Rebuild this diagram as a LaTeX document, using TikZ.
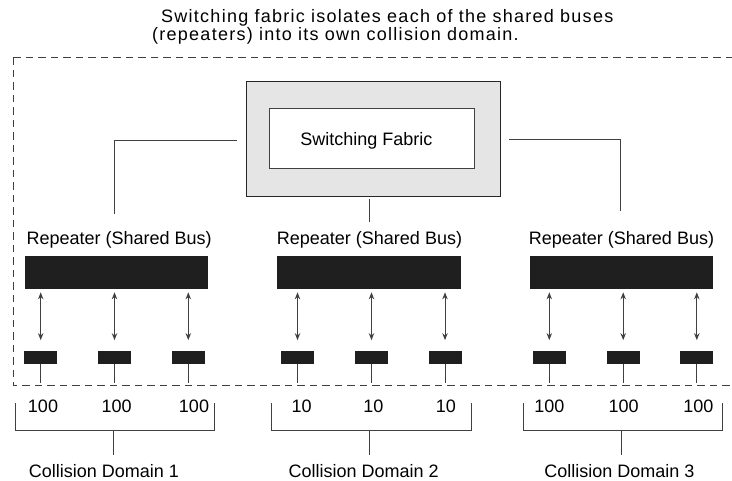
\documentclass[tikz,border=0pt]{standalone}
\usepackage{fontspec}
\setmainfont{Liberation Sans}
\usetikzlibrary{arrows.meta}
\begin{document}
\begin{tikzpicture}[x=1pt,y=-1pt,
  font=\fontsize{18}{20}\selectfont,
  line/.style={draw=black!75, line width=1pt},
  bar/.style={fill=black!88, draw=none, inner sep=0pt, outer sep=0pt, minimum height=33.3pt, minimum width=183.5pt},
  sbox/.style={fill=black!88, draw=none, inner sep=0pt, outer sep=0pt, minimum height=13.3pt, minimum width=33pt},
  arr/.style={line, {Stealth[length=7pt,width=5.5pt]}-{Stealth[length=7pt,width=5.5pt]}, shorten <=3pt, shorten >=10.5pt},
  lbl/.style={inner sep=0pt, anchor=base},
  dashbox/.style={draw=black!75, line width=1pt, dash pattern=on 7.5pt off 5pt}]
\useasboundingbox (0,0) rectangle (732,481);
\begin{scope}
\clip (0,0) rectangle (732,481);
\draw[dashbox] (13,57.5) rectangle (745,385.7);
\end{scope}

% caption
\node[lbl, anchor=base west] (cap1) at (161,23) {\addfontfeature{LetterSpace=7}Switching fabric isolates each of the shared buses};
\node[lbl, anchor=base west] (cap2) at (152,40.7) {\addfontfeature{LetterSpace=7}(repeaters) into its own collision domain.};

% switching fabric
\node[draw=black!85, line width=1.2pt, fill=black!10, minimum width=253.6pt, minimum height=115pt, inner sep=0pt] (fab) at (373.5,139.2) {};
\node[draw=black!75, line width=1pt, fill=white, minimum width=205.4pt, minimum height=60pt, inner sep=0pt] (fabin) at (372,139) {};
\node[lbl] (fabtxt) at (366.3,145.5) {Switching Fabric};

% connectors from fabric
\coordinate (cL1) at (236.7,141);
\coordinate (cL2) at (114.7,214.3);
\coordinate (cR1) at (509.3,139.7);
\coordinate (cR2) at (620,211.3);
\coordinate (cM1) at (369.3,199.5);
\coordinate (cM2) at (369.3,221.7);
\draw[line] (cL1) -| (cL2);
\draw[line] (cR1) -| (cR2);
\draw[line] (cM1) -- (cM2);

% repeater labels
\node[lbl] (rl1) at (119.2,245) {Repeater (Shared Bus)};
\node[lbl] (rl2) at (369.5,245) {Repeater (Shared Bus)};
\node[lbl] (rl3) at (621.5,245) {Repeater (Shared Bus)};

% bars
\node[bar] (bar1) at (116.7,272.7) {};
\node[bar] (bar2) at (369.2,272.7) {};
\node[bar] (bar3) at (621.7,272.7) {};

% small boxes
\node[sbox] (s11) at (40.7,357.3) {};
\node[sbox] (s12) at (114.5,357.3) {};
\node[sbox] (s13) at (188.3,357.3) {};
\node[sbox] (s21) at (297.5,357.3) {};
\node[sbox] (s22) at (371.5,357.3) {};
\node[sbox] (s23) at (445,357.3) {};
\node[sbox] (s31) at (549.3,357.3) {};
\node[sbox] (s32) at (623.2,357.3) {};
\node[sbox] (s33) at (696.8,357.3) {};

% arrows and drops
\foreach \g in {1,2,3}{
  \foreach \i in {1,2,3}{
    \draw[arr] (s\g\i.north |- bar\g.south) -- (s\g\i.north);
    \coordinate (t\g\i) at ([yshift=-19.3pt]s\g\i.south);
    \draw[line] (s\g\i.south) -- (t\g\i);
  }
}

% numbers
\node[lbl] (n11) at (43,413) {100};
\node[lbl] (n12) at (116.7,413) {100};
\node[lbl] (n13) at (194,413) {100};
\node[lbl] (n21) at (301.7,413) {10};
\node[lbl] (n22) at (373.5,413) {10};
\node[lbl] (n23) at (446,413) {10};
\node[lbl] (n31) at (549.3,413) {100};
\node[lbl] (n32) at (623.7,413) {100};
\node[lbl] (n33) at (698.3,413) {100};

% brackets
\coordinate (b1a) at (15,403.3);  \coordinate (b1b) at (214,403.3);
\coordinate (b2a) at (271.7,403.3); \coordinate (b2b) at (471,403.3);
\coordinate (b3a) at (523.3,403.3); \coordinate (b3b) at (722.7,403.3);
\draw[line] (b1a) -- ++(0,27.7) -| (b1b);
\draw[line] (b2a) -- ++(0,27.7) -| (b2b);
\draw[line] (b3a) -- ++(0,27.7) -| (b3b);
\coordinate (m1a) at (113.3,431); \coordinate (m1b) at (113.3,455);
\coordinate (m2a) at (369.3,431); \coordinate (m2b) at (369.3,455);
\coordinate (m3a) at (621.3,431); \coordinate (m3b) at (621.3,455);
\draw[line] (m1a) -- (m1b);
\draw[line] (m2a) -- (m2b);
\draw[line] (m3a) -- (m3b);

% domain labels
\node[lbl] (d1) at (104,478) {Collision Domain 1};
\node[lbl] (d2) at (363.7,478) {Collision Domain 2};
\node[lbl] (d3) at (619.3,478) {Collision Domain 3};
\end{tikzpicture}
\end{document}
